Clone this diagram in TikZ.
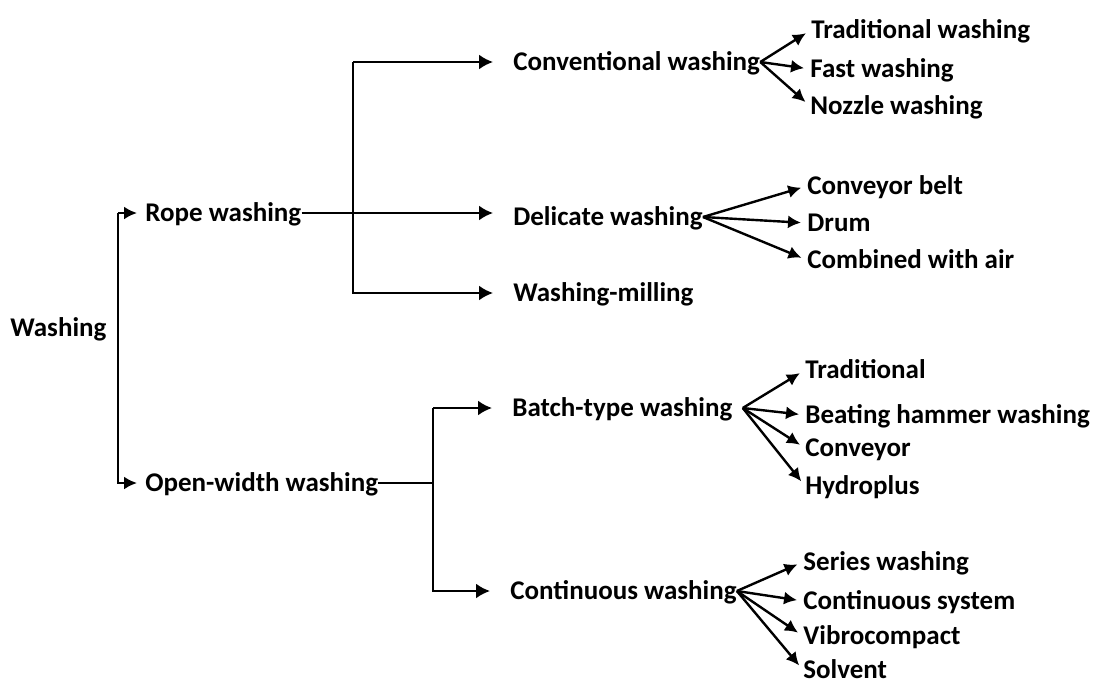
\documentclass[tikz,border=0pt]{standalone}
\usepackage{fontspec}
\setmainfont{Carlito}
\usetikzlibrary{arrows.meta}

\begin{document}
\begin{tikzpicture}[x=0.5pt,y=-0.5pt,
  lbl/.style={inner sep=0pt,anchor=west,text height=8pt,text depth=0pt,
    font=\fontsize{13.5}{16}\selectfont\bfseries},
  line/.style={line width=1.2pt},
  tomid/.style={line,-{Latex[length=7pt,width=7.5pt]},shorten >=10pt},
  toside/.style={line,-{Latex[length=6.5pt,width=6.5pt]},shorten >=4pt},
  fan/.style={line,-{Latex[length=6.5pt,width=6.5pt]},shorten >=3pt}]

\useasboundingbox (0,0) rectangle (1096,686);

%% first level
\node[lbl] (wash) at (10,328) {Washing};
\node[lbl] (rope) at (145,213) {Rope washing};
\node[lbl] (open) at (145,483) {Open-width washing};

%% second level
\node[lbl] (conv) at (513,62) {Conventional washing};
\node[lbl] (deli) at (513,217) {Delicate washing};
\node[lbl] (mill) at (513,293) {Washing-milling};
\node[lbl] (batch) at (512,408) {Batch-type washing};
\node[lbl] (cont) at (510,591) {Continuous washing};

%% third level
\node[lbl] (tw) at (811,30) {Traditional washing};
\node[lbl] (fw) at (810,69) {Fast washing};
\node[lbl] (nw) at (810,106) {Nozzle washing};
\node[lbl] (cb) at (807,186) {Conveyor belt};
\node[lbl] (dr) at (807,223) {Drum};
\node[lbl] (ca) at (807,260) {Combined with air};
\node[lbl] (tr) at (805,370) {Traditional};
\node[lbl] (bh) at (805,415) {Beating hammer washing};
\node[lbl] (cv) at (805,448) {Conveyor};
\node[lbl] (hy) at (805,486) {Hydroplus};
\node[lbl] (sw) at (803,562) {Series washing};
\node[lbl] (cs) at (803,601) {Continuous system};
\node[lbl] (vc) at (803,636) {Vibrocompact};
\node[lbl] (so) at (803,670) {Solvent};

%% branch points
\coordinate (j1) at (118,0);
\coordinate (j2) at (353,0);
\coordinate (j3) at (433,0);

%%% edges
\draw[toside] (j1 |- rope.west) -- (rope.west);
\draw[toside] (j1 |- rope.west) |- (open.west);

\draw[tomid] (rope.east) -- (rope.east -| deli.west);
\draw[tomid] (j2 |- conv.west) -- (conv.west);
\draw[tomid] (j2 |- conv.west) |- (mill.west);

\draw[line] (open.east) -- (open.east -| j3);
\draw[tomid] (j3 |- batch.west) -- (batch.west);
\draw[tomid] (j3 |- batch.west) |- (cont.west);

\foreach \n in {tw,fw,nw} \draw[fan] (conv.east) -- (\n.west);
\foreach \n in {cb,dr,ca} \draw[fan] (deli.east) -- (\n.west);
\foreach \n in {tr,bh,cv,hy} \draw[fan] ([xshift=5pt]batch.east) -- (\n.west);
\foreach \n in {sw,cs,vc,so} \draw[fan] (cont.east) -- (\n.west);

\end{tikzpicture}
\end{document}
